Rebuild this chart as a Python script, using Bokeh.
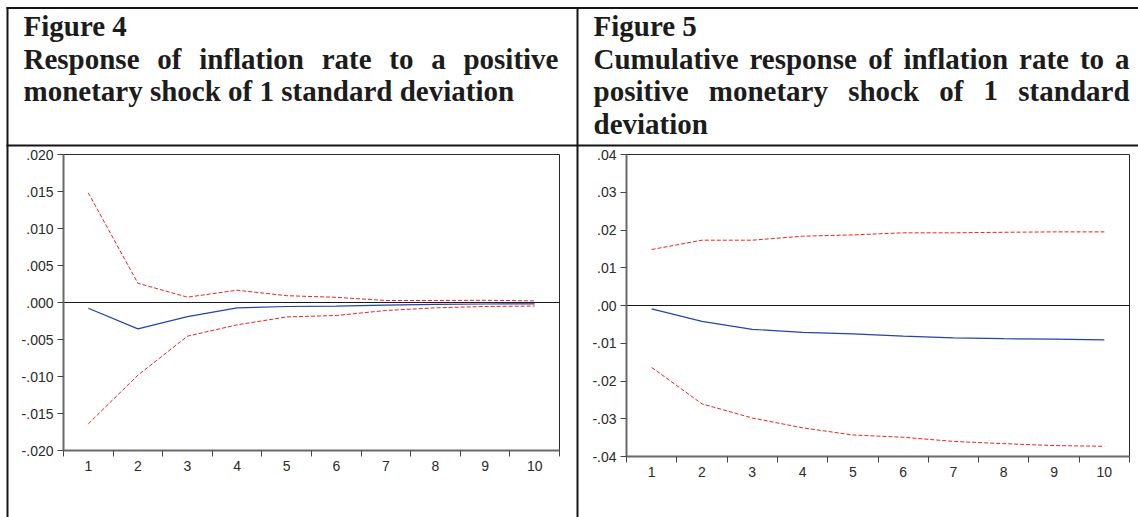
from bokeh.plotting import figure
from bokeh.models import Range1d, FixedTicker, LinearAxis, CustomJSTickFormatter
from bokeh.core.properties import value
from bokeh.embed import file_html
from bokeh.resources import INLINE

# ---------------- data ----------------
periods = [1, 2, 3, 4, 5, 6, 7, 8, 9, 10]

irf_response = [-0.00077, -0.00356, -0.0019, -0.00072, -0.00054, -0.0005, -0.00035, -0.00025, -0.0002, -0.00018]
irf_upper = [0.01482, 0.0026, 0.00072, 0.00166, 0.00092, 0.0007, 0.00027, 0.00027, 0.0003, 0.00022]
irf_lower = [-0.0164, -0.00982, -0.00455, -0.00302, -0.00195, -0.00176, -0.00108, -0.00072, -0.00054, -0.00048]

cum_response = [-0.00088, -0.0042, -0.0063, -0.0071, -0.0075, -0.0081, -0.0086, -0.0088, -0.0089, -0.0091]
cum_upper = [0.01483, 0.0173, 0.0173, 0.01836, 0.0187, 0.01925, 0.01925, 0.0194, 0.0195, 0.0195]
cum_lower = [-0.0164, -0.02605, -0.0298, -0.0324, -0.0343, -0.0349, -0.036, -0.0366, -0.0371, -0.0373]

y_ticks_left = [0.02, 0.015, 0.01, 0.005, 0.0, -0.005, -0.01, -0.015, -0.02]
y_labels_left = [".020", ".015", ".010", ".005", ".000", "-.005", "-.010", "-.015", "-.020"]
y_ticks_right = [0.04, 0.03, 0.02, 0.01, 0.0, -0.01, -0.02, -0.03, -0.04]
y_labels_right = [".04", ".03", ".02", ".01", ".00", "-.01", "-.02", "-.03", "-.04"]

title_left = ["Figure 4",
              "Response of inflation rate to a positive",
              "monetary shock of 1 standard deviation"]
justify_left = [False, True, False]
title_right = ["Figure 5",
               "Cumulative response of inflation rate to a",
               "positive monetary shock of 1 standard",
               "deviation"]
justify_right = [False, True, True, False]

# ---------------- layout constants (page pixels) ----------------
W, H = 1138, 517
TITLE_PX = 29
TICK_PX = "14px"

# Times-Bold (Liberation Serif Bold) advance widths, per 1000 em
TB = {' ': 250, 'a': 500, 'b': 556, 'c': 444, 'd': 556, 'e': 444, 'f': 333, 'g': 500,
      'h': 556, 'i': 278, 'j': 333, 'k': 556, 'l': 278, 'm': 833, 'n': 556, 'o': 500,
      'p': 556, 'q': 556, 'r': 444, 's': 389, 't': 333, 'u': 556, 'v': 500, 'w': 722,
      'x': 500, 'y': 500, 'z': 444, 'C': 722, 'F': 611, 'R': 722}


def word_width(w):
    return sum(TB.get(ch, 500) for ch in w) / 1000.0 * TITLE_PX


p = figure(width=W, height=H, output_backend="svg", toolbar_location=None,
           x_range=Range1d(0, W), y_range=Range1d(H, 0),
           x_axis_type=None, y_axis_type=None, min_border=0,
           background_fill_color="white", border_fill_color="white")
p.outline_line_color = None
p.xgrid.visible = False
p.ygrid.visible = False


def chart(name, fx0, fx1, fy0, fy1, ylo, yhi, yticks, ylabels, resp, upper, lower):
    xlo, xhi = periods[0] - 0.5, periods[-1] + 0.5
    sx = (xhi - xlo) / (fx1 - fx0)
    sy = (yhi - ylo) / (fy1 - fy0)
    xr, yr = "x" + name, "y" + name
    p.extra_x_ranges[xr] = Range1d(xlo - fx0 * sx, xhi + (W - fx1) * sx)
    p.extra_y_ranges[yr] = Range1d(ylo - (H - fy1) * sy, yhi + fy0 * sy)
    kw = dict(x_range_name=xr, y_range_name=yr)

    # plot frame
    p.quad(left=[xlo], right=[xhi], bottom=[ylo], top=[yhi], fill_alpha=0,
           line_color="#2a2a2a", line_width=1, **kw)
    # zero line
    p.segment(x0=[xlo], x1=[xhi], y0=[0], y1=[0], line_color="#1a1a1a", line_width=1, **kw)

    p.line(periods, upper, line_color="#ee2222", line_width=1, line_dash="4 2", **kw)
    p.line(periods, lower, line_color="#ee2222", line_width=1, line_dash="4 2", **kw)
    p.line(periods, resp, line_color="#2345a5", line_width=1.2, **kw)

    xa = LinearAxis(fixed_location=ylo, bounds=(xlo, xhi), **kw)
    xa.ticker = FixedTicker(ticks=periods, minor_ticks=[v - 0.5 for v in periods] + [xhi])
    xa.major_tick_out = 0
    xa.major_tick_in = 0
    xa.minor_tick_out = 6
    xa.minor_tick_in = 0
    xa.minor_tick_line_color = "#444444"
    xa.major_label_standoff = 4
    xa.axis_line_color = "#6a6a6a"
    xa.axis_line_width = 2
    xa.major_label_text_font = "Liberation Sans"
    xa.major_label_text_font_size = TICK_PX
    xa.major_label_text_color = "#2a2a2a"
    p.add_layout(xa, "below")

    ya = LinearAxis(fixed_location=xlo, bounds=(ylo, yhi), **kw)
    ya.ticker = FixedTicker(ticks=yticks, minor_ticks=[])
    ya.formatter = CustomJSTickFormatter(args=dict(tv=yticks, tl=ylabels), code="""
        let best = 0, d = Infinity;
        for (let i = 0; i < tv.length; i++) {
            const e = Math.abs(tv[i] - tick);
            if (e < d) { d = e; best = i; }
        }
        return tl[best];
    """)
    ya.major_tick_out = 6
    ya.major_tick_in = 0
    ya.minor_tick_out = 0
    ya.minor_tick_in = 0
    ya.major_tick_line_color = "#444444"
    ya.major_label_standoff = 4
    ya.axis_line_color = "#6a6a6a"
    ya.axis_line_width = 2
    ya.major_label_text_font = "Liberation Sans"
    ya.major_label_text_font_size = TICK_PX
    ya.major_label_text_color = "#2a2a2a"
    p.add_layout(ya, "left")


chart("l", 63, 559, 154, 450, -0.02, 0.02, y_ticks_left, y_labels_left,
      irf_response, irf_upper, irf_lower)
chart("r", 626, 1129, 154, 456, -0.04, 0.04, y_ticks_right, y_labels_right,
      cum_response, cum_upper, cum_lower)

# ---------------- table borders ----------------
bl = [6, 6, 6, 576]
br = [W, W, 8, 578]
bt = [6.5, 144, 6.5, 6.5]
bb = [8.5, 146, H, H]
p.quad(left=bl, right=br, top=bt, bottom=bb, fill_color="#151515", line_color=None)

# ---------------- titles ----------------
tx, ty, tt = [], [], []


def add_title(lines, justify, x_left, x_right, baselines):
    for line, just, base in zip(lines, justify, baselines):
        if not just:
            tx.append(x_left); ty.append(base); tt.append(line)
        else:
            words = line.split(" ")
            widths = [word_width(w) for w in words]
            gap = (x_right - x_left - sum(widths)) / (len(words) - 1)
            cx = x_left
            for w, wd in zip(words, widths):
                tx.append(cx); ty.append(base); tt.append(w)
                cx += wd + gap


add_title(title_left, justify_left, 23, 558, [25, 58, 90])
add_title(title_right, justify_right, 593, 1129, [25, 58, 90, 123])
p.text(x=tx, y=ty, text=tt, text_font=value("Liberation Serif"), text_font_size=value(f"{TITLE_PX}px"),
       text_font_style="bold", text_color="#1c1c1c", text_baseline="alphabetic", text_align="left")

open("out.html", "w").write(file_html(p, INLINE))
